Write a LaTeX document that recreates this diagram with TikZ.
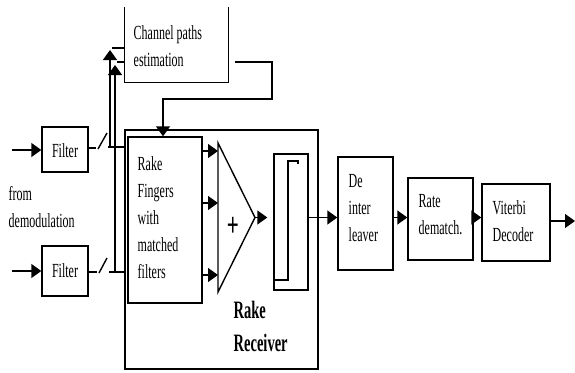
\documentclass[tikz,border=0pt]{standalone}
\usepackage{fontspec}
\setmainfont{Liberation Serif}
\usetikzlibrary{arrows.meta}
\newcommand\txt[1]{\scalebox{0.6}[1]{\begin{tabular}[t]{@{}l@{}}#1\end{tabular}}}
\newcommand\bigtxt[1]{\scalebox{0.58}[1]{\begin{tabular}[t]{@{}l@{}}#1\end{tabular}}}
\begin{document}
\begin{tikzpicture}[x=1pt,y=-1pt, line width=1.4pt,
  box/.style={draw, inner sep=0pt, rectangle},
  lbl/.style={inner sep=0pt, anchor=base west, font=\fontsize{20}{27}\selectfont},
  blbl/.style={inner sep=0pt, anchor=base west, font=\fontsize{25}{33}\selectfont\bfseries},
  arr/.style={-{Triangle[length=10pt,width=14pt]}}]
\useasboundingbox (0,0) rectangle (575,372);

% boxes
\node[inner sep=0pt, minimum width=103, minimum height=74] (ch) at (176.5,45) {};
\draw (ch.north west) |- (ch.south east) -- (ch.north east);
\node[box, minimum width=46, minimum height=45] (f1) at (65,149.5) {};
\node[box, minimum width=46, minimum height=50] (f2) at (65,271) {};
\node[box, minimum width=193, minimum height=239] (R) at (221.5,249.5) {};
\node[box, minimum width=74, minimum height=166] (F) at (165,220) {};
\node[box, minimum width=34, minimum height=136] (B) at (291,222) {};
\node[box, minimum width=55, minimum height=113] (D) at (365.5,213.5) {};
\node[box, minimum width=65, minimum height=82] (Rt) at (440.5,219) {};
\node[box, minimum width=68, minimum height=77] (V) at (516,222.5) {};

% adder triangle
\coordinate (tl) at (218,143);
\coordinate (tb) at (218,292);
\coordinate (ta) at (255,217.5);
\draw (tl) -- (tb) -- (ta) -- cycle;

% buffer inner line
\draw (275,280) -| (288,161) -- (298,161) -- (298,164);

% level coordinates
\coordinate (in1) at (12,150);
\coordinate (in2) at (12,271);
\coordinate (y1) at (0,151);
\coordinate (y2) at (0,203);
\coordinate (y3) at (0,275);
\coordinate (ym) at (0,217.5);
\coordinate (out) at (575,221);
\coordinate (s1) at (0,148);
\coordinate (s2) at (0,272);
\coordinate (c1) at (235,62);
\coordinate (c2) at (272,99);
\coordinate (c3) at (163,99);
\coordinate (v1) at (110,147);
\coordinate (v1t) at (110,50);
\coordinate (v2) at (115,272);
\coordinate (v2t) at (115,65);
\coordinate (h1) at (112,48);
\coordinate (h2) at (117,62);

% inputs
\draw[arr] (in1) -- (in1 -| f1.west);
\draw[arr] (in2) -- (in2 -| f2.west);

% switches
\draw (f1.east |- s1) -- ++(7,0);
\draw (98,149) -- (107,133);
\draw (108,147) -- (R.west |- v1);
\draw[arr] (v1) -- (v1t);
\draw (h1) -- (ch.west |- h1);

\draw (f2.east |- s2) -- ++(8,0);
\draw (99,273) -- (107,258);
\draw (109,272) -- (R.west |- v2);
\draw[arr] (v2) -- (v2t);
\draw (h2) -- (ch.west |- h2);

% channel estimate feedback
\draw[arr] (c1) -| (c2) -- (c3) -- (c3 |- F.north);

% fingers to adder
\draw[arr] (F.east |- y1) -- (tl |- y1);
\draw[arr] (F.east |- y2) -- (tl |- y2);
\draw[arr] (F.east |- y3) -- (tl |- y3);
\draw[arr, shorten >=6pt] (ta) -- (ta -| B.west);

% chain
\draw[arr] (B.east |- ym) -- (D.west |- ym);
\draw[arr] (D.east |- ym) -- (Rt.west |- ym);
\draw[arr] (Rt.east |- ym) -- (V.west |- ym);
\draw[arr] (V.east |- out) -- (out);

% texts
\node[lbl] (tch) at (133,39) {\txt{Channel paths\\estimation}};
\node[lbl, anchor=base] (tf1) at (65,157) {\txt{Filter}};
\node[lbl, anchor=base] (tf2) at (65,277) {\txt{Filter}};
\node[lbl] (tfrom) at (8,200) {\txt{from\\demodulation}};
\node[lbl] (tF) at (137,170) {\txt{Rake\\Fingers\\with\\matched\\filters}};
\node[inner sep=0pt, font=\fontsize{34}{34}\selectfont\bfseries] (plus) at (233,227) {\scalebox{0.62}[1]{+}};
\node[lbl] (tD) at (348,187) {\txt{De\\inter\\leaver}};
\node[lbl] (tR) at (418,207) {\txt{Rate\\dematch.}};
\node[lbl] (tV) at (492,214) {\txt{Viterbi\\Decoder}};
\node[blbl] (tRR) at (233,318) {\bigtxt{Rake\\Receiver}};
\end{tikzpicture}
\end{document}
